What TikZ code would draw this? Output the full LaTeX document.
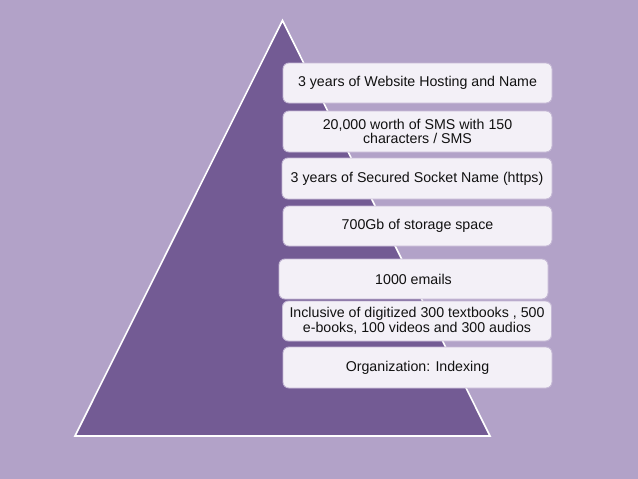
\documentclass[tikz,border=0pt]{standalone}
\usepackage{fontspec}
\setmainfont{Liberation Sans}
\definecolor{bgc}{HTML}{B2A2C8}
\definecolor{tric}{HTML}{735B94}
\definecolor{boxf}{HTML}{F3F0F7}
\definecolor{boxd}{HTML}{C6BAD6}
\definecolor{txt}{HTML}{111111}
\begin{document}
\begin{tikzpicture}[x=1pt,y=-1pt,
  itembox/.style={draw=boxd,line width=0.9pt,fill=boxf,rounded corners=6pt,
    align=center,font=\fontsize{14.2}{14.8}\selectfont,text=txt,inner sep=0pt}]
\fill[bgc] (0,0) rectangle (638,479);
\useasboundingbox (0,0) rectangle (638,479);
\coordinate (apex) at (282.5,20.5);
\coordinate (bl) at (75,436);
\coordinate (br) at (490,436);
\draw[white,line width=1.6pt,fill=tric,line join=miter] (bl) -- (apex) -- (br) -- cycle;
\node[itembox,minimum width=269pt,minimum height=40pt] (b1) at (417.5,83) {3 years of Website Hosting and Name};
\node[itembox,minimum width=269pt,minimum height=41pt] (b2) at (417.5,131.5) {20,000 worth of SMS with 150\\characters / SMS};
\node[itembox,minimum width=270pt,minimum height=41pt] (b3) at (417,178.5) {3 years of Secured Socket Name (https)};
\node[itembox,minimum width=269pt,minimum height=40pt] (b4) at (417.5,226) {700Gb of storage space};
\node[itembox,minimum width=269pt,minimum height=40pt] (b5) at (413.5,279) {1000 emails};
\node[itembox,minimum width=269pt,minimum height=40pt] (b6) at (417,321) {Inclusive of digitized 300 textbooks , 500\\e-books, 100 videos and 300 audios};
\node[itembox,minimum width=269pt,minimum height=41pt] (b7) at (417.5,367.5) {Organization: Indexing};
\end{tikzpicture}
\end{document}
